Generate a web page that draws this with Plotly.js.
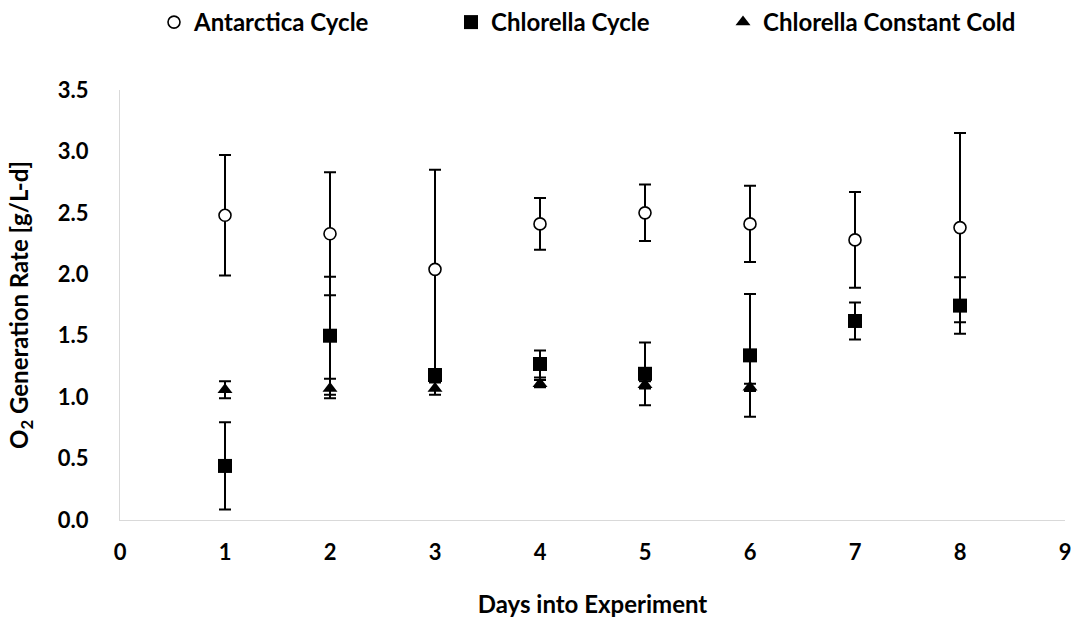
<!DOCTYPE html>
<html>
<head>
<meta charset="utf-8">
<script src="https://cdn.plot.ly/plotly-3.0.1.min.js"></script>
<style>html,body{margin:0;padding:0;background:#fff;}#chart{width:1075px;height:622px;}</style>
</head>
<body>
<div id="chart"></div>
<script>
// Data
var days = [1, 2, 3, 4, 5, 6, 7, 8];
var antarcticaCycle = [2.48, 2.33, 2.04, 2.41, 2.50, 2.41, 2.28, 2.38];
var antarcticaErr   = [0.49, 0.50, 0.81, 0.21, 0.23, 0.31, 0.39, 0.77];
var chlorellaCycle  = [0.44, 1.50, 1.18, 1.27, 1.19, 1.34, 1.62, 1.745];
var chlorellaErr    = [0.355, 0.48, 0.05, 0.11, 0.255, 0.50, 0.15, 0.23];
var coldDays = [1, 2, 3, 4, 5, 6];
var chlorellaCold   = [1.06, 1.07, 1.07, 1.11, 1.10, 1.08];
var chlorellaColdErr = [0.07, 0.08, 0.05, 0.03, 0.03, 0.03];
var seriesNames = ['Antarctica Cycle', 'Chlorella Cycle', 'Chlorella Constant Cold'];
var xTicks = [0, 1, 2, 3, 4, 5, 6, 7, 8, 9];
var yTicks = [0, 0.5, 1.0, 1.5, 2.0, 2.5, 3.0, 3.5];

var FONT = 'Lato, "Open Sans", sans-serif';
var TXT = {family: FONT, size: 24, color: '#000', weight: 'bold'};
var TICK = {family: FONT, size: 22, color: '#000', weight: 'bold'};
function errBar(arr) {
  return {type: 'data', array: arr, visible: true, color: '#000', thickness: 2, width: 6};
}
function legendAt(px) {
  return {orientation: 'h', xref: 'container', x: px / 1075, xanchor: 'left',
          yref: 'container', y: 1, yanchor: 'top', font: TXT, itemsizing: 'trace',
          bgcolor: 'rgba(0,0,0,0)', borderwidth: 0};
}

var traces = [
  {
    x: days, y: antarcticaCycle, name: seriesNames[0], type: 'scatter', mode: 'markers', legend: 'legend',
    marker: {symbol: 'circle', size: 12, color: '#fff', line: {color: '#000', width: 1.6}},
    error_y: errBar(antarcticaErr)
  },
  {
    x: days, y: chlorellaCycle, name: seriesNames[1], type: 'scatter', mode: 'markers', legend: 'legend2',
    marker: {symbol: 'square', size: 14, color: '#000', line: {width: 0}},
    error_y: errBar(chlorellaErr)
  },
  {
    x: coldDays, y: chlorellaCold, name: seriesNames[2], type: 'scatter', mode: 'markers', legend: 'legend3',
    marker: {symbol: 'triangle-up', size: 13, color: '#000', line: {width: 0}},
    error_y: errBar(chlorellaColdErr)
  }
];

var layout = {
  width: 1075, height: 622,
  margin: {l: 120, r: 10, t: 90, b: 102},
  paper_bgcolor: '#fff', plot_bgcolor: '#fff',
  font: TXT,
  showlegend: true,
  legend: legendAt(154),
  legend2: legendAt(451),
  legend3: legendAt(723),
  xaxis: {
    range: [0, 9], tickmode: 'array', tickvals: xTicks, ticktext: xTicks.map(String),
    showgrid: false, zeroline: false, showline: true, linecolor: '#d9d9d9', linewidth: 1,
    ticks: '', ticklabelstandoff: 13,
    tickfont: TICK,
    title: {text: 'Days into Experiment', standoff: 31, font: TXT},
    fixedrange: true
  },
  yaxis: {
    range: [0, 3.5], tickmode: 'array', tickvals: yTicks, ticktext: yTicks.map(function(v){return v.toFixed(1);}),
    showgrid: false, zeroline: false, showline: true, linecolor: '#d9d9d9', linewidth: 1,
    ticks: '', ticklabelstandoff: 26,
    tickfont: TICK,
    title: {text: 'O<sub>2</sub> Generation Rate [g/L-d]', standoff: 22, font: TXT},
    fixedrange: true
  }
};

Plotly.newPlot('chart', traces, layout, {displayModeBar: false, staticPlot: true});
</script>
</body>
</html>
